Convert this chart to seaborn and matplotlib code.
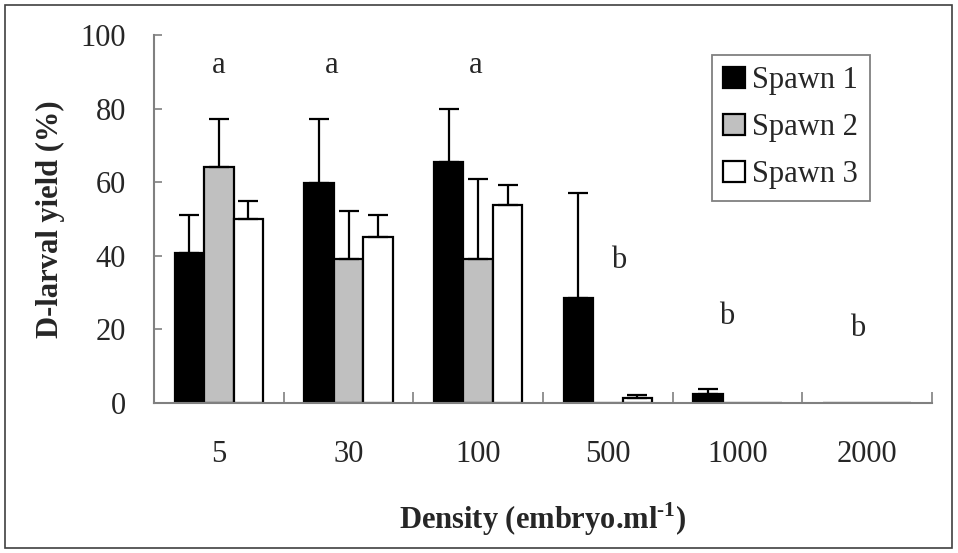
import matplotlib
matplotlib.use("Agg")
import matplotlib.pyplot as plt
from matplotlib.patches import Rectangle
from matplotlib.ticker import FixedLocator
import numpy as np
import pandas as pd
import seaborn as sns

# Stocking density groups and D-larval yield per spawn (%)
densities = ["5", "30", "100", "500", "1000", "2000"]
spawn_names = ["Spawn 1", "Spawn 2", "Spawn 3"]
spawn1 = [40.8, 59.9, 65.4, 28.4, 2.4, 0.0]
spawn2 = [64.1, 39.1, 39.1, 0.0, 0.0, 0.0]
spawn3 = [50.1, 45.2, 53.8, 1.3, 0.0, 0.0]
# upper error (SD) for each bar
err1 = [10.3, 17.3, 14.5, 28.6, 1.5, 0.0]
err2 = [13.1, 13.1, 21.8, 0.0, 0.0, 0.0]
err3 = [4.8, 5.9, 5.4, 1.0, 0.0, 0.0]
# significance letters: (group position, baseline height, letter)
sig_x = [0.0, 0.87, 1.98, 3.08, 3.92, 4.93]
sig_y = [89.7, 89.7, 89.7, 36.7, 21.5, 18.2]
sig_text = ["a", "a", "a", "b", "b", "b"]

values = [spawn1, spawn2, spawn3]
errors = [err1, err2, err3]

df = pd.DataFrame({
    "Density": densities * 3,
    "Spawn": [s for s in spawn_names for _ in densities],
    "Yield": spawn1 + spawn2 + spawn3,
})

sns.set_style("white")
plt.rcParams["font.family"] = ["Liberation Serif", "DejaVu Serif"]
plt.rcParams["mathtext.fontset"] = "custom"
plt.rcParams["mathtext.rm"] = "Liberation Serif"
plt.rcParams["mathtext.bf"] = "Liberation Serif:bold"

fig = plt.figure(figsize=(9.58, 5.53), dpi=100)
ax = fig.add_axes([154 / 958, 150 / 553, 778 / 958, 368 / 553])

palette = {"Spawn 1": "#000000", "Spawn 2": "#c0c0c0", "Spawn 3": "#ffffff"}
sns.barplot(data=df, x="Density", y="Yield", hue="Spawn", order=densities,
            hue_order=spawn_names, palette=palette, width=0.68, gap=0,
            errorbar=None, edgecolor="black", linewidth=1.6, saturation=1,
            ax=ax)

# upward-only error bars placed on the drawn bars
bars = ax.patches[:len(densities) * len(spawn_names)]
for k, (vals, errs) in enumerate(zip(values, errors)):
    for i, (v, e) in enumerate(zip(vals, errs)):
        if e <= 0:
            continue
        bar = bars[k * len(densities) + i]
        xc = bar.get_x() + bar.get_width() / 2
        ax.errorbar(xc, v, yerr=[[0], [e]], fmt="none", ecolor="black",
                    elinewidth=1.6, capsize=7, capthick=1.6, zorder=3)

for x, y, t in zip(sig_x, sig_y, sig_text):
    ax.text(x, y, t, ha="center", va="baseline", fontsize=22)

ax.set_ylim(0, 100)
ax.set_xlim(-0.5, len(densities) - 0.5)
ax.set_yticks(np.arange(0, 101, 20))
ax.tick_params(axis="y", direction="in", length=6, width=1.2, color="#808080",
               labelsize=22, pad=20, left=True)
ax.tick_params(axis="x", which="major", length=0, labelsize=22, pad=27)
ax.xaxis.set_minor_locator(FixedLocator(np.arange(-0.5, len(densities), 1.0)))
ax.tick_params(axis="x", which="minor", direction="in", length=8, width=1.2,
               color="#808080", bottom=True)

for side in ["top", "right"]:
    ax.spines[side].set_visible(False)
for side in ["left", "bottom"]:
    ax.spines[side].set_color("#808080")
    ax.spines[side].set_linewidth(1.5)

ax.set_xlabel(r"Density (embryo.ml$^{\mathbf{\text{-}1}}$)", fontsize=22,
              fontweight="bold", labelpad=22)
ax.set_ylabel("D-larval yield (%)", fontsize=22, fontweight="bold",
              labelpad=11)

handles, labels = ax.get_legend_handles_labels()
leg = ax.legend(handles, labels, loc="upper left",
                bbox_to_anchor=(0.717, 0.946), borderaxespad=0,
                fancybox=False, edgecolor="#808080", framealpha=1,
                fontsize=22, handlelength=0.7, handleheight=0.7,
                handletextpad=0.25, labelspacing=0.58, borderpad=0.38)
leg.get_frame().set_linewidth(1.3)

# border round the whole figure
fig.patches.append(Rectangle((5 / 958, 5 / 553), 947 / 958, 543 / 553,
                             transform=fig.transFigure, fill=False,
                             edgecolor="#404040", linewidth=1.2))

fig.savefig("out.png", dpi=100)
